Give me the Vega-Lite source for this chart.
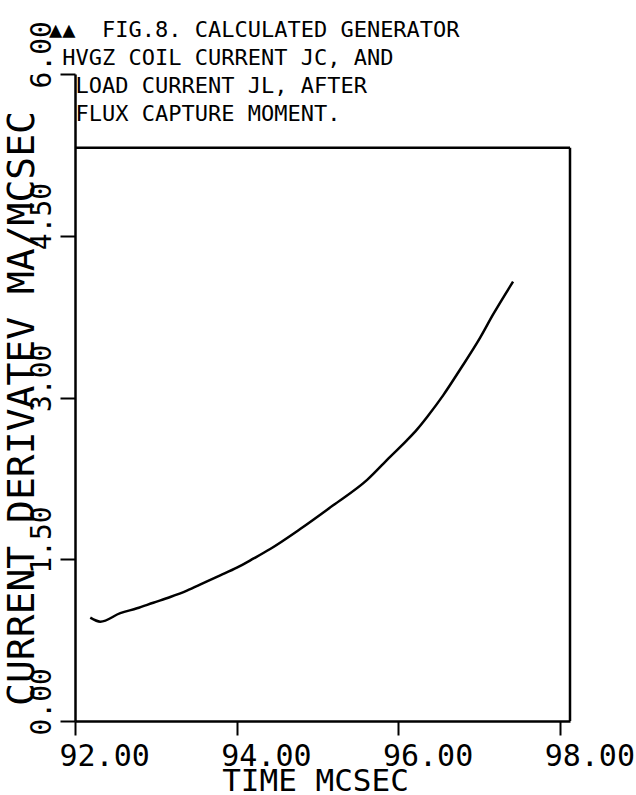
{
  "$schema": "https://vega.github.io/schema/vega-lite/v6.json",
  "width": 495,
  "height": 647,
  "autosize": {"type": "none"},
  "padding": {"left": 75, "top": 74, "right": 66, "bottom": 74},
  "background": "white",
  "config": {"view": {"stroke": null}, "font": "DejaVu Sans Mono"},
  "title": {
    "text": ["▲▲\u00a0\u00a0FIG.8. CALCULATED GENERATOR", "\u200b\u00a0HVGZ COIL CURRENT JC, AND", "\u200b\u00a0\u00a0LOAD CURRENT JL, AFTER", "\u200b\u00a0\u00a0FLUX CAPTURE MOMENT."],
    "anchor": "start",
    "frame": "group",
    "font": "DejaVu Sans Mono",
    "fontSize": 22,
    "fontWeight": "normal",
    "color": "black",
    "lineHeight": 28,
    "baseline": "alphabetic",
    "dx": -26,
    "dy": 122,
    "offset": 0
  },
  "datasets": {
    "curve": [
      {"t": 92.189, "v": 0.958},
      {"t": 92.313, "v": 0.921},
      {"t": 92.560, "v": 1.000},
      {"t": 92.766, "v": 1.045},
      {"t": 92.968, "v": 1.097},
      {"t": 93.178, "v": 1.150},
      {"t": 93.384, "v": 1.209},
      {"t": 93.586, "v": 1.278},
      {"t": 93.796, "v": 1.350},
      {"t": 94.002, "v": 1.422},
      {"t": 94.204, "v": 1.505},
      {"t": 94.414, "v": 1.595},
      {"t": 94.785, "v": 1.780},
      {"t": 95.193, "v": 2.000},
      {"t": 95.613, "v": 2.236},
      {"t": 95.897, "v": 2.450},
      {"t": 96.107, "v": 2.605},
      {"t": 96.231, "v": 2.705},
      {"t": 96.355, "v": 2.820},
      {"t": 96.553, "v": 3.020},
      {"t": 96.763, "v": 3.260},
      {"t": 97.011, "v": 3.555},
      {"t": 97.171, "v": 3.770},
      {"t": 97.418, "v": 4.075}
    ],
    "frame": [
      {"x1": 92, "x2": 98.122, "y1": 5.315, "y2": 5.315},
      {"x1": 98.122, "x2": 98.122, "y1": 0, "y2": 5.315}
    ]
  },
  "layer": [
    {
      "data": {"name": "curve"},
      "mark": {"type": "line", "color": "black", "strokeWidth": 2.5, "interpolate": "monotone"},
      "encoding": {
        "x": {
          "field": "t", "type": "quantitative",
          "scale": {"domain": [92, 98.122], "nice": false, "zero": false},
          "axis": {
            "title": "TIME MCSEC",
            "values": [92, 94, 96, 98],
            "format": ".2f",
            "grid": false,
            "domainColor": "black", "domainWidth": 2.5,
            "tickColor": "black", "tickWidth": 2, "tickSize": 14,
            "labelFont": "DejaVu Sans Mono", "labelFontSize": 30, "labelColor": "black",
            "labelAlign": "left", "labelOffset": -16, "labelBaseline": "alphabetic", "labelPadding": 30,
            "labelOverlap": false, "labelFlush": false, "labelBound": false,
            "titleFont": "DejaVu Sans Mono", "titleFontSize": 31, "titleFontWeight": "normal", "titleColor": "black",
            "titleX": 240, "titleY": 69, "titleAlign": "center", "titleBaseline": "alphabetic"
          }
        },
        "y": {
          "field": "v", "type": "quantitative",
          "scale": {"domain": [0, 6], "nice": false, "zero": false},
          "axis": {
            "title": "CURRENT DERIVATEV MA/MCSEC",
            "values": [0, 1.5, 3, 4.5, 6],
            "format": ".2f",
            "grid": false,
            "domainColor": "black", "domainWidth": 2.5,
            "tickColor": "black", "tickWidth": 2, "tickSize": 15,
            "labelFont": "DejaVu Sans Mono", "labelFontSize": 28, "labelColor": "black",
            "labelAngle": 270, "labelAlign": "left", "labelBaseline": "alphabetic", "labelPadding": 10, "labelOffset": 14,
            "labelOverlap": false, "labelFlush": false, "labelBound": false,
            "titleFont": "DejaVu Sans Mono", "titleFontSize": 38, "titleFontWeight": "normal", "titleColor": "black",
            "titleAngle": 270, "titleX": -42, "titleY": 334, "titleAlign": "center", "titleBaseline": "alphabetic"
          }
        }
      }
    },
    {
      "data": {"name": "frame"},
      "mark": {"type": "rule", "color": "black", "strokeWidth": 2.5},
      "encoding": {
        "x": {"field": "x1", "type": "quantitative"},
        "x2": {"field": "x2"},
        "y": {"field": "y1", "type": "quantitative"},
        "y2": {"field": "y2"}
      }
    }
  ]
}
